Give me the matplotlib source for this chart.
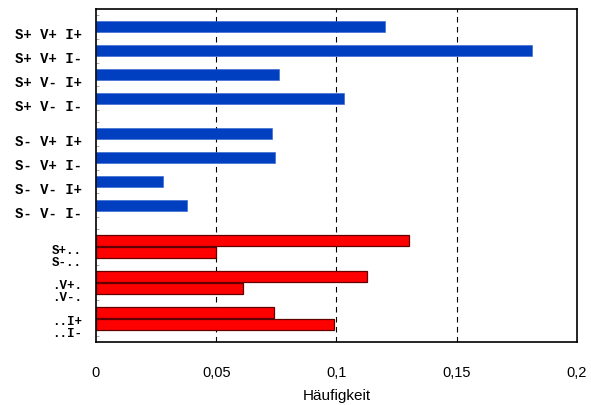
import matplotlib
matplotlib.use('Agg')
import matplotlib.pyplot as plt
from matplotlib.ticker import FixedLocator

# data
blue_labels = ['S+ V+ I+', 'S+ V+ I-', 'S+ V- I+', 'S+ V- I-',
               'S- V+ I+', 'S- V+ I-', 'S- V- I+', 'S- V- I-']
blue_vals = [0.120, 0.1815, 0.0763, 0.1033, 0.0730, 0.0746, 0.0277, 0.0380]
red_labels = ['S+..', 'S-..', '.V+.', '.V-.', '..I+', '..I-']
red_vals = [0.1303, 0.0500, 0.1125, 0.0613, 0.0742, 0.0991]
x_ticks = [0, 0.05, 0.1, 0.15, 0.2]
x_ticklabels = ['0', '0,05', '0,1', '0,15', '0,2']

# slot positions (top to bottom)
blue_pos = [1.5 + 2 * i + (1 if i >= 4 else 0) for i in range(len(blue_vals))]
red_pos = [19.5 + 3 * (j // 2) + (j % 2) for j in range(len(red_vals))]

fig = plt.figure(figsize=(5.91, 4.05), dpi=100)
ax = fig.add_axes([0.1624, 0.1556, 0.8139, 0.8222])

for x in x_ticks[1:]:
  ax.axvline(x, color='black', lw=0.8, ls=(0, (5, 4)), zorder=1)

ax.barh(blue_pos, blue_vals, height=0.92, color='#0040C0', edgecolor='#3060d0',
        linewidth=0.4, zorder=3)
ax.barh(red_pos, red_vals, height=0.92, color='#FF0000', edgecolor='#600000',
        linewidth=0.9, zorder=3)

ax.set_xlim(0, 0.2)
ax.set_ylim(28, 0)

ax.set_xticks(x_ticks)
ax.set_xticklabels(x_ticklabels, fontsize=10.5, family='Liberation Sans')
ax.tick_params(axis='x', length=0, pad=17)
ax.set_xlabel('Häufigkeit', fontsize=11, family='Liberation Sans', labelpad=7)

ax.set_yticks([p + 0.6 for p in blue_pos] + [p + 0.7 for p in red_pos])
ax.set_yticklabels(blue_labels + red_labels, family='Liberation Mono',
                   fontweight='bold', fontsize=10)
for lbl in ax.get_yticklabels()[len(blue_labels):]:
  lbl.set_fontsize(9)
ax.tick_params(axis='y', length=0, pad=10)
bounds = [0.5 + 2 * i for i in range(5)] + [9.5 + 2 * i for i in range(5)] + [18.5, 21.5, 24.5, 27.5]
ax.yaxis.set_minor_locator(FixedLocator(bounds))
ax.tick_params(axis='y', which='minor', length=2.5, width=0.6, direction='in', color='#999999')

for s in ax.spines.values():
  s.set_linewidth(1.2)
  s.set_zorder(4)

fig.savefig('out.png', dpi=100)
